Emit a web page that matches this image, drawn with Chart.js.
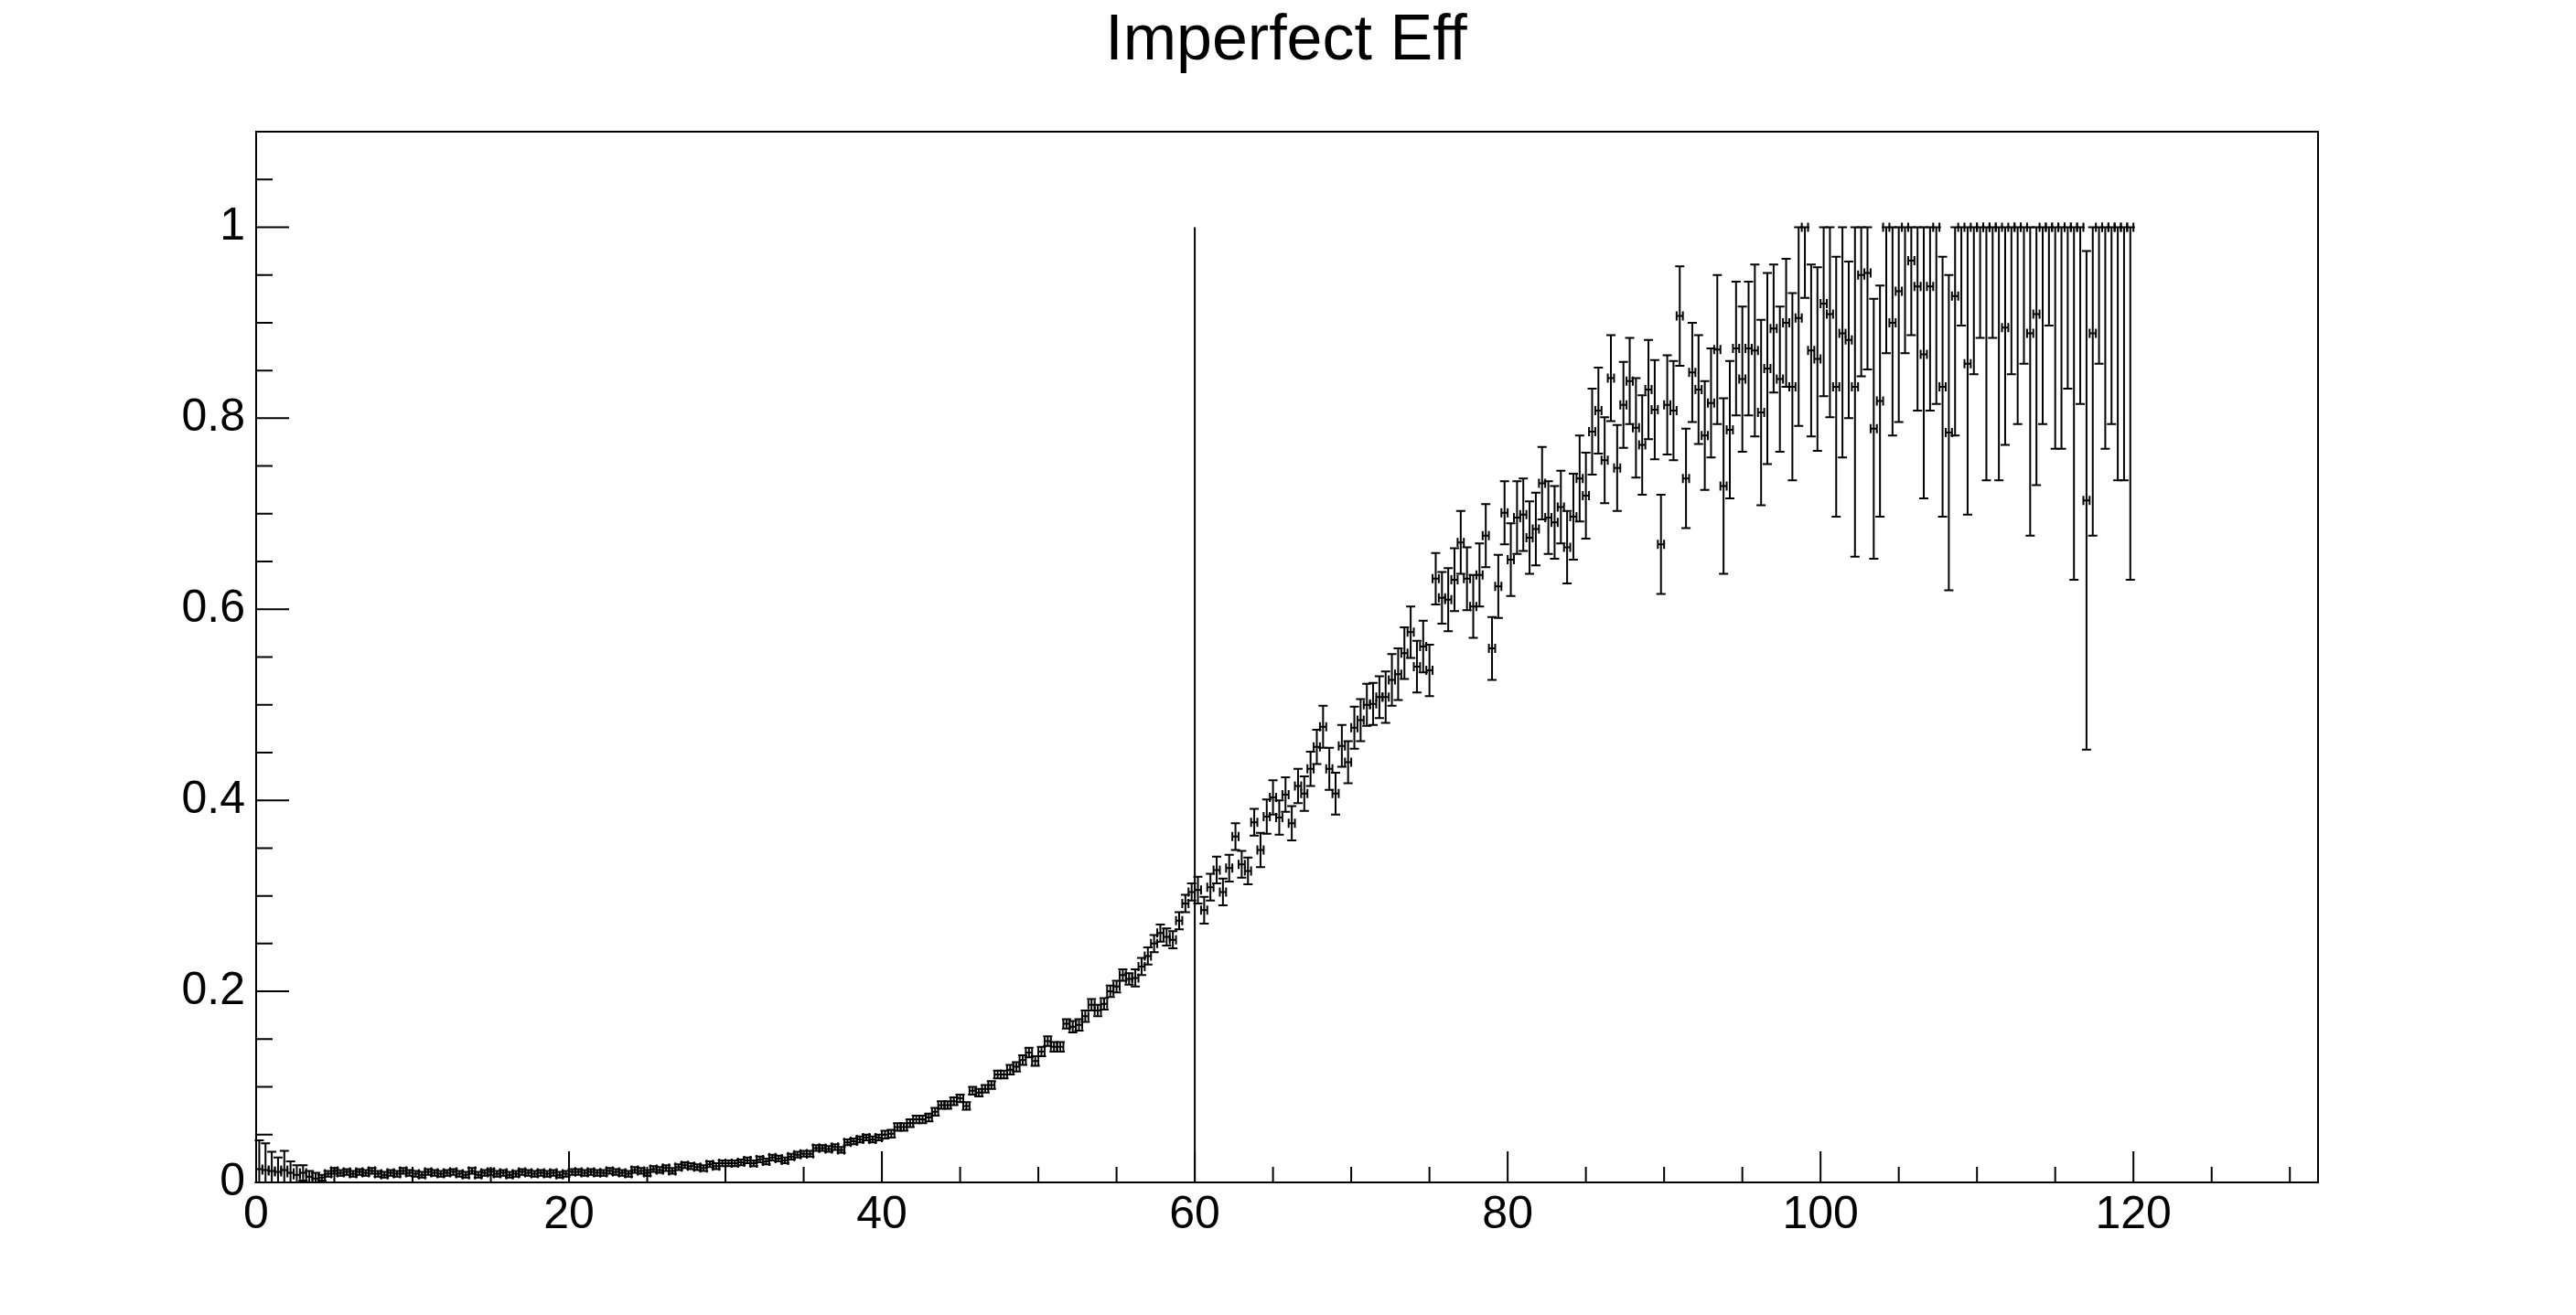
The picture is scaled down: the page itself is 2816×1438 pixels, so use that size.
<!DOCTYPE html>
<html><head><meta charset="utf-8">
<script src="https://cdn.jsdelivr.net/npm/chart.js@4"></script>
<style>html,body{margin:0;padding:0;background:#fff}#wrap{width:2816px;height:1438px}</style>
</head><body><div id="wrap"><canvas id="c" width="2816" height="1438"></canvas></div>
<script>
const TITLE = "Imperfect Eff";
const X_MIN = 0, X_MAX = 131.8, Y_MIN = 0, Y_MAX = 1.1;
const BIN_START = 0, BIN_WIDTH = 0.4;
const CUT_X = 60;
const xTickLabels = [0, 20, 40, 60, 80, 100, 120];
const yTickLabels = [0, 0.2, 0.4, 0.6, 0.8, 1];

// efficiency per bin (300 bins, 0..120)
const effLow = [ // bins 0-104
0.014,0.013,0.012,0.011,0.013,0.010,0.008,0.010,0.006,0.004,0.005,0.009,0.012,
0.010,0.011,0.009,0.011,0.010,0.012,0.009,0.008,0.010,0.009,0.012,0.010,0.009,0.008,0.011,0.010,0.009,0.010,0.011,0.009,0.008,0.012,0.008,0.010,0.011,0.009,0.010,0.008,0.009,0.011,0.010,0.009,0.010,0.009,0.010,0.008,0.009,
0.011,0.011,0.010,0.011,0.010,0.010,0.012,0.011,0.010,0.009,0.013,0.012,0.010,
0.014,0.013,0.015,0.012,0.016,0.018,0.017,0.016,0.015,0.019,0.017,0.020,0.020,
0.020,0.021,0.023,0.020,0.024,0.022,0.026,0.025,0.023,0.027,0.029,0.030,
0.030,0.036,0.036,0.035,0.037,0.034,0.042,0.043,0.045,0.047,0.045,0.047,0.050,
0.051,0.058,0.058,0.062];
const effMid = [ // bins 105-149
0.066,0.066,0.068,0.074,0.081,0.081,0.085,0.088,0.080,0.096,
0.094,0.098,0.102,0.113,0.113,0.118,0.121,0.128,0.136,0.127,
0.137,0.148,0.142,0.142,0.166,0.163,0.165,0.174,0.186,0.180,
0.187,0.200,0.205,0.217,0.213,0.214,0.226,0.237,0.250,0.261,
0.257,0.254,0.274,0.292,0.304];
const effHigh = [ // bins 150-232
0.306,0.285,0.309,0.327,0.304,0.329,0.362,0.333,0.326,0.377,
0.348,0.383,0.403,0.382,0.406,0.376,0.415,0.407,0.433,0.456,
0.477,0.433,0.407,0.457,0.440,0.476,0.484,0.500,0.501,0.508,
0.508,0.526,0.532,0.554,0.576,0.540,0.561,0.536,0.632,0.612,
0.610,0.631,0.670,0.632,0.603,0.636,0.677,0.559,0.624,0.701,
0.652,0.696,0.699,0.675,0.684,0.732,0.696,0.691,0.707,0.665,
0.697,0.737,0.719,0.786,0.808,0.756,0.842,0.748,0.814,0.839,
0.790,0.772,0.830,0.809,0.668,0.814,0.808,0.907,0.737,0.848,
0.830,0.782,0.816];
const effTail = [ // bins 233-299
0.872,0.729,0.788,0.873,0.841,0.873,0.871,0.806,0.852,0.894,
0.841,0.900,0.833,0.905,1.000,0.871,0.862,0.920,0.909,0.833,
0.889,0.882,0.833,0.950,0.952,0.789,0.818,1.000,0.900,0.933,
1.000,0.965,0.938,0.867,0.938,1.000,0.833,0.785,0.928,1.000,
0.857,1.000,1.000,1.000,1.000,1.000,0.895,1.000,1.000,1.000,
0.889,0.909,1.000,1.000,1.000,1.000,1.000,1.000,1.000,0.714,
0.889,1.000,1.000,1.000,1.000,1.000,1.000];

// error estimates: per 10-bin group for bins 0-232, explicit for the tail
const errHead = [0.03,0.028,0.02,0.015,0.02,0.012,0.01,0.008];
const errGroups = [0.006,0.003,0.003,0.003,0.003,0.003,0.003,0.003,0.003,0.003,
                   0.004,0.004,0.005,0.006,0.009,0.014,0.018,0.022,0.027,0.033,
                   0.038,0.045,0.052,0.057];
const errTail = [
0.078,0.092,0.072,0.070,0.076,0.070,0.090,0.097,0.100,0.067,
0.076,0.067,0.098,0.113,0.074,0.090,0.096,0.097,0.108,0.136,
0.130,0.082,0.178,0.106,0.101,0.136,0.121,0.132,0.118,0.137,
0.132,0.078,0.130,0.151,0.130,0.185,0.136,0.165,0.146,0.103,
0.158,0.154,0.116,0.265,0.116,0.265,0.123,0.154,0.206,0.143,
0.212,0.179,0.206,0.103,0.232,0.232,0.169,0.369,0.185,0.261,
0.212,0.143,0.232,0.206,0.265,0.265,0.369];

const eff = effLow.concat(effMid, effHigh, effTail);
const err = eff.map((v, i) => i < 233 ? (i < errHead.length ? errHead[i] : errGroups[Math.floor(i / 10)]) : errTail[i - 233]);
const points = eff.map((v, i) => ({
  x: BIN_START + BIN_WIDTH * (i + 0.5), y: v,
  lo: Math.max(0, v - err[i]), hi: Math.min(1, v + err[i])
}));

const FONT = "'Liberation Sans', Arial, sans-serif";

const rootPlugin = {
  id: 'rootStyle',
  afterDatasetsDraw(chart) {
    const {ctx, chartArea: a, scales: {x, y}} = chart;
    ctx.save();
    ctx.strokeStyle = '#000';
    ctx.lineWidth = 2;
    const cap = 5;
    chart.data.datasets[0].data.forEach(p => {
      const px = x.getPixelForValue(p.x), py = y.getPixelForValue(p.y);
      const xl = x.getPixelForValue(p.x - BIN_WIDTH / 2), xr = x.getPixelForValue(p.x + BIN_WIDTH / 2);
      const yl = y.getPixelForValue(p.lo), yh = y.getPixelForValue(p.hi);
      ctx.beginPath();
      ctx.moveTo(xl, py); ctx.lineTo(xr, py);
      ctx.moveTo(xl, py - cap); ctx.lineTo(xl, py + cap);
      ctx.moveTo(xr, py - cap); ctx.lineTo(xr, py + cap);
      ctx.moveTo(px, yl); ctx.lineTo(px, yh);
      ctx.moveTo(px - cap, yl); ctx.lineTo(px + cap, yl);
      ctx.moveTo(px - cap, yh); ctx.lineTo(px + cap, yh);
      ctx.stroke();
    });
    ctx.lineWidth = 2;
    ctx.strokeRect(a.left, a.top, a.right - a.left, a.bottom - a.top);
    ctx.beginPath();
    for (let v = 0; v <= X_MAX + 1e-9; v += 5) {
      const px = x.getPixelForValue(v);
      const len = (Math.abs(v % 20) < 1e-9) ? 34 : 17;
      ctx.moveTo(px, a.bottom); ctx.lineTo(px, a.bottom - len);
    }
    for (let v = 0; v <= Y_MAX + 1e-9; v += 0.05) {
      const py = y.getPixelForValue(v);
      const major = Math.abs(Math.round(v / 0.2) * 0.2 - v) < 1e-6;
      const len = major ? 36 : 18;
      ctx.moveTo(a.left, py); ctx.lineTo(a.left + len, py);
    }
    ctx.stroke();
    ctx.fillStyle = '#000';
    ctx.font = '70px ' + FONT;
    ctx.textAlign = 'center'; ctx.textBaseline = 'middle';
    ctx.fillText(TITLE, chart.width / 2 - 2, 46);
    ctx.restore();
  }
};

new Chart(document.getElementById('c'), {
  type: 'scatter',
  data: { datasets: [
    { data: points, pointRadius: 0, showLine: false },
    { data: [{x: CUT_X, y: 0}, {x: CUT_X, y: 1}], showLine: true, borderColor: '#000', borderWidth: 2, pointRadius: 0 }
  ]},
  options: {
    responsive: false, animation: false, devicePixelRatio: 1,
    layout: { padding: { top: 144, right: 282, left: 0, bottom: 0 } },
    plugins: { legend: { display: false }, tooltip: { enabled: false }, title: { display: false } },
    scales: {
      x: {
        type: 'linear', min: X_MIN, max: X_MAX,
        afterFit: s => { s.height = 145; },
        afterBuildTicks: s => { s.ticks = xTickLabels.map(v => ({value: v})); },
        grid: { display: false, drawTicks: false }, border: { display: false },
        ticks: { color: '#000', font: { size: 50, family: FONT }, padding: 6, maxRotation: 0, autoSkip: false, callback: v => String(v) }
      },
      y: {
        type: 'linear', min: Y_MIN, max: Y_MAX,
        afterFit: s => { s.width = 280; },
        afterBuildTicks: s => { s.ticks = yTickLabels.map(v => ({value: v})); },
        grid: { display: false, drawTicks: false }, border: { display: false },
        ticks: { color: '#000', font: { size: 50, family: FONT }, padding: 12, autoSkip: false, callback: v => String(v) }
      }
    }
  },
  plugins: [rootPlugin]
});
</script></body></html>
